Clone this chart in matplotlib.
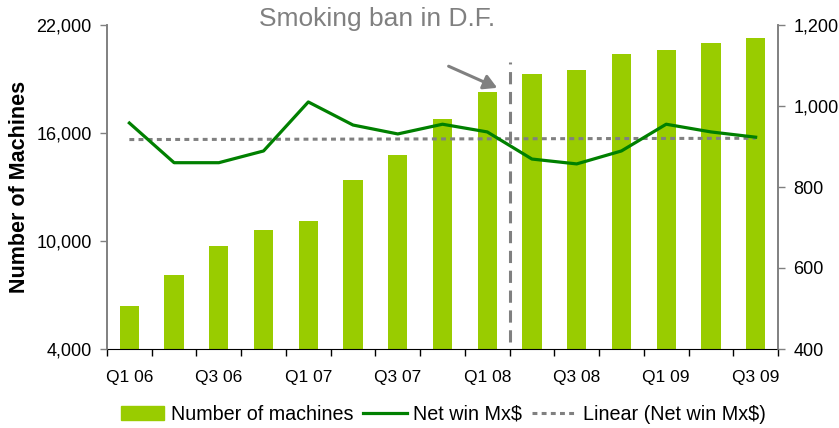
"""
Machines vs net win, with smoking ban marker
"""
import numpy as np
import matplotlib.pyplot as plt
from matplotlib.patches import Patch
from matplotlib.lines import Line2D

plt.rcParams['font.family'] = ['Liberation Sans', 'DejaVu Sans']

# Data
quarters = ['Q1 06', 'Q2 06', 'Q3 06', 'Q4 06', 'Q1 07', 'Q2 07', 'Q3 07', 'Q4 07',
            'Q1 08', 'Q2 08', 'Q3 08', 'Q4 08', 'Q1 09', 'Q2 09', 'Q3 09']
machines = [6400, 8100, 9700, 10600, 11100, 13400, 14800, 16800,
            18300, 19300, 19500, 20400, 20600, 21000, 21300]
net_win = [958, 860, 860, 889, 1010, 953, 931, 955,
           936, 869, 857, 889, 955, 936, 923]

x = np.arange(len(quarters))
# linear trend of net win
slope, icpt = np.polyfit(x, net_win, 1)
trend = slope * x + icpt

bar_col = '#99CC00'
line_col = '#008000'
grey = '#808080'

fig = plt.figure(figsize=(8.39, 4.28), dpi=100)
ax = fig.add_axes([107/839, 1 - 349/428, (778-107)/839, (349-25)/428])
ax2 = ax.twinx()

ax.bar(x, machines, width=0.43, color=bar_col, zorder=2)
ax.set_ylim(4000, 22000)
ax.set_yticks([4000, 10000, 16000, 22000])
ax.set_yticklabels(['{:,}'.format(v) for v in [4000, 10000, 16000, 22000]])
ax.set_xlim(-0.5, 14.5)
ax.set_ylabel('Number of Machines', fontsize=15.5, fontweight='bold')
ax.yaxis.set_label_coords(-77/671, 0.5)

ax2.plot(x, trend, color=grey, linestyle=(0, (1.6, 1.4)), linewidth=2.2, zorder=3)
ax2.plot(x, net_win, color=line_col, linewidth=2.3, zorder=4)
ax2.set_ylim(400, 1200)
ax2.set_yticks([400, 600, 800, 1000, 1200])
ax2.set_yticklabels(['{:,}'.format(v) for v in [400, 600, 800, 1000, 1200]])

# x ticks: labels every other quarter, tick marks on boundaries
ax.set_xticks(x[::2])
ax.set_xticklabels(quarters[::2])
ax.set_xticks(np.arange(-0.5, 15, 1), minor=True)
ax.tick_params(axis='x', which='major', length=0, pad=15, labelsize=12.5)
ax.tick_params(axis='x', which='minor', length=5, width=1, color='black')
ax.tick_params(axis='y', length=5, width=1, color=grey, labelsize=13, pad=6)
ax2.tick_params(axis='y', length=5, width=1, color=grey, labelsize=13, pad=6)

for a in (ax, ax2):
    a.spines['top'].set_visible(False)
    a.spines['left'].set_color(grey)
    a.spines['right'].set_color(grey)
    a.spines['bottom'].set_color('black')
    a.spines['left'].set_linewidth(1.2)
    a.spines['right'].set_linewidth(1.2)
ax2.spines['bottom'].set_visible(False)

# smoking ban marker
ax2.plot([8.5, 8.5], [417, 1109], color=grey, linestyle=(0, (4, 2.5)), linewidth=2.2,
         zorder=5)
ax2.annotate('', xy=(8.28, 1042), xytext=(7.08, 1101),
             arrowprops=dict(arrowstyle='-|>,head_length=0.8,head_width=0.45',
                             color=grey, lw=2.2))
fig.text(377/839, 1 - 19/428, 'Smoking ban in D.F.', color=grey, fontsize=19,
         ha='center', va='center')

# legend
handles = [Patch(color=bar_col),
           Line2D([], [], color=line_col, linewidth=2.3),
           Line2D([], [], color=grey, linestyle=(0, (1.6, 1.4)), linewidth=2.2)]
labels = ['Number of machines', 'Net win Mx$', 'Linear (Net win Mx$)']
fig.legend(handles, labels, loc='center', bbox_to_anchor=(443/839, 1 - 414/428),
           ncol=3, frameon=False, fontsize=14.2, handlelength=2.2, handletextpad=0.35,
           columnspacing=0.5, borderpad=0)

plt.savefig('out.png', dpi=100)
